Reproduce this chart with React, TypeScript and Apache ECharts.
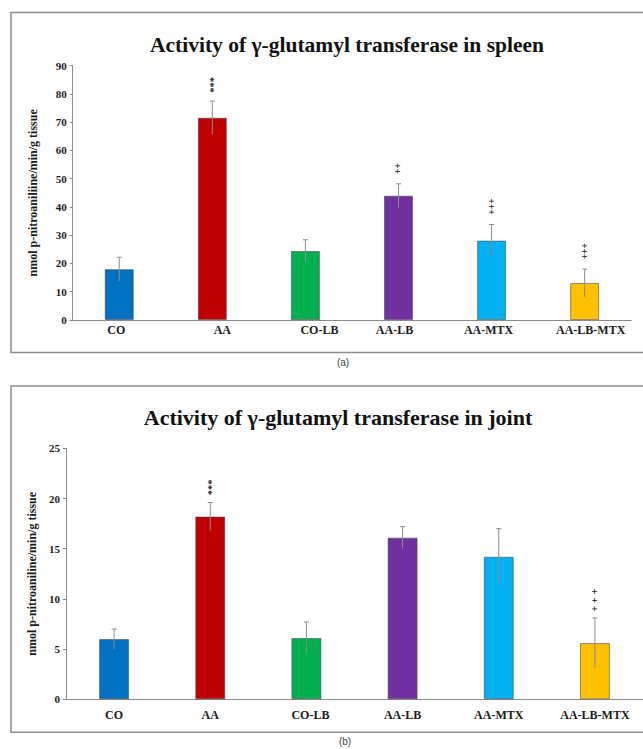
import React, { useEffect, useRef } from 'react';
import * as echarts from 'echarts';

// ---------- data ----------
const categories = ['CO', 'AA', 'CO-LB', 'AA-LB', 'AA-MTX', 'AA-LB-MTX'];

const spleenValues = [18.0, 71.6, 24.4, 44.0, 28.1, 13.1];
const spleenErrors = [4.2, 5.9, 4.0, 4.2, 5.7, 4.9];
const spleenMarks = ['', '***', '', '++', '+++', '+++'];
const spleenTicks = [0, 10, 20, 30, 40, 50, 60, 70, 80, 90];

const jointValues = [6.0, 18.2, 6.1, 16.1, 14.2, 5.6];
const jointErrors = [1.0, 1.4, 1.6, 1.1, 2.8, 2.5];
const jointMarks = ['', '***', '', '', '', '+++'];
const jointTicks = [0, 5, 10, 15, 20, 25];

const spleenTitle = 'Activity of γ-glutamyl transferase in spleen';
const jointTitle = 'Activity of γ-glutamyl transferase in joint';
const spleenYName = 'nmol p-nitroaniliine/min/g tissue';
const jointYName = 'nmol p-nitroaniline/min/g tissue';

// ---------- styles ----------
const barColors = ['#0070C0', '#C00000', '#00B050', '#7030A0', '#00B0F0', '#FFC000'];
const SERIF = '"Liberation Serif", "Times New Roman", serif';
const TXT = '#1a1a1a';
const AXIS = '#8a8a8a';
const spleenLabelShift = [-3, 10, 14, -4, -3, 6];
const jointLabelShift = [0, 0, 4, 0, 0, 0];

type MarkCfg = { size: number; adv: number; dx: number; gap: number; sep: string };
const spleenMarkStyle: Record<string, MarkCfg> = {
  '*': { size: 10.5, adv: 5.25, dx: 1.5, gap: 11, sep: '' },
  '+': { size: 9.5, adv: 5.4, dx: -0.5, gap: 12.5, sep: '' },
};
const jointMarkStyle: Record<string, MarkCfg> = {
  '*': { size: 10.5, adv: 5.25, dx: 1.5, gap: 10, sep: '' },
  '+': { size: 10.5, adv: 8.6, dx: -0.5, gap: 10.5, sep: ' ' },
};

function labelRich(shifts: number[]) {
  const rich: Record<string, any> = {};
  shifts.forEach((s, i) => {
    rich['s' + i] = {
      fontFamily: SERIF,
      fontWeight: 'bold',
      fontSize: 12,
      color: TXT,
      padding: s >= 0 ? [0, 0, 0, 2 * s] : [0, -2 * s, 0, 0],
    };
  });
  return rich;
}

function buildSeries(
  idx: number,
  values: number[],
  errors: number[],
  marks: string[],
  barWidth: number,
  markStyle: Record<string, MarkCfg>
) {
  return [
    {
      type: 'bar',
      xAxisIndex: idx,
      yAxisIndex: idx,
      barWidth,
      data: values.map((v, i) => ({
        value: v,
        itemStyle: { color: barColors[i], borderColor: 'rgba(70,70,70,0.55)', borderWidth: 1 },
      })),
      z: 2,
    },
    {
      type: 'custom',
      xAxisIndex: idx,
      yAxisIndex: idx,
      z: 3,
      itemStyle: { color: '#8c8c8c' },
      data: values.map((v, i) => [i, v, errors[i]]),
      renderItem: (params: any, api: any) => {
        const x = api.value(0);
        const v = api.value(1);
        const e = api.value(2);
        const hi = api.coord([x, v + e]);
        const lo = api.coord([x, v - e]);
        const st = { stroke: '#8c8c8c', lineWidth: 1, fill: 'none' };
        return {
          type: 'group',
          children: [
            { type: 'line', shape: { x1: hi[0], y1: hi[1], x2: lo[0], y2: lo[1] }, style: st },
            { type: 'line', shape: { x1: hi[0] - 2.5, y1: hi[1], x2: hi[0] + 2.5, y2: hi[1] }, style: st },
          ],
        };
      },
    },
    {
      type: 'custom',
      xAxisIndex: idx,
      yAxisIndex: idx,
      z: 4,
      itemStyle: { color: TXT },
      data: values.map((v, i) => [i, v + errors[i]]),
      renderItem: (params: any, api: any) => {
        const i = params.dataIndex;
        const chars = Array.from(marks[i] || '');
        if (!chars.length) return { type: 'group', children: [] };
        const top = api.coord([api.value(0), api.value(1)]);
        const ms = markStyle[chars[0]] || markStyle['*'];
        return {
          type: 'text',
          x: Math.round(top[0]) + ms.dx,
          y: top[1] - ms.gap + ms.adv / 2,
          rotation: Math.PI / 2,
          style: {
            text: chars.join(ms.sep),
            align: 'left',
            verticalAlign: 'middle',
            fontFamily: SERIF,
            fontWeight: 'bold',
            fontSize: ms.size,
            fill: TXT,
          },
        };
      },
    },
  ];
}

export default function App() {
  const ref = useRef<HTMLDivElement>(null);

  useEffect(() => {
    if (!ref.current) return;
    const chart = echarts.init(ref.current, undefined, { renderer: 'svg' });

    const yAxisCommon = (ticks: number[], name: string, nameGap: number, gridIndex: number) => ({
      type: 'value',
      gridIndex,
      min: ticks[0],
      max: ticks[ticks.length - 1],
      interval: ticks[1] - ticks[0],
      name,
      nameLocation: 'middle',
      nameGap,
      nameRotate: 90,
      nameTextStyle: { fontFamily: SERIF, fontWeight: 'bold', fontSize: 12, color: TXT },
      axisLine: { show: true, lineStyle: { color: AXIS, width: 1 } },
      axisTick: { show: true, length: 3, lineStyle: { color: AXIS } },
      splitLine: { show: false },
      axisLabel: { fontFamily: SERIF, fontWeight: 'bold', fontSize: 11, color: TXT, margin: 6 },
    });

    const xAxisCommon = (gridIndex: number, shifts: number[], margin: number) => ({
      type: 'category',
      gridIndex,
      data: categories,
      axisLine: { show: true, lineStyle: { color: AXIS, width: 1 } },
      axisTick: { show: false },
      axisLabel: {
        interval: 0,
        margin,
        formatter: (v: string, i: number) => `{s${i}|${v}}`,
        rich: labelRich(shifts),
      },
    });

    chart.setOption({
      animation: false,
      backgroundColor: '#ffffff',
      grid: [
        { left: 72.7, top: 65.7, width: 558.5, height: 254.3, containLabel: false },
        { left: 66, top: 448.3, width: 577, height: 251, containLabel: false },
      ],
      xAxis: [xAxisCommon(0, spleenLabelShift, 4), xAxisCommon(1, jointLabelShift, 10)],
      yAxis: [
        yAxisCommon(spleenTicks, spleenYName, 34, 0),
        yAxisCommon(jointTicks, jointYName, 26, 1),
      ],
      graphic: [
        {
          type: 'rect',
          shape: { x: 11, y: 12.5, width: 640, height: 340 },
          style: { fill: 'none', stroke: '#8c8c8c', lineWidth: 1.5 },
          silent: true,
        },
        {
          type: 'rect',
          shape: { x: 11, y: 386, width: 640, height: 346.3 },
          style: { fill: 'none', stroke: '#8c8c8c', lineWidth: 1.5 },
          silent: true,
        },
        {
          type: 'text',
          x: 347,
          y: 45,
          style: {
            text: spleenTitle,
            align: 'center',
            verticalAlign: 'middle',
            fontFamily: SERIF,
            fontWeight: 'bold',
            fontSize: 21.5,
            fill: '#111',
          },
        },
        {
          type: 'text',
          x: 338,
          y: 417,
          style: {
            text: jointTitle,
            align: 'center',
            verticalAlign: 'middle',
            fontFamily: SERIF,
            fontWeight: 'bold',
            fontSize: 22,
            fill: '#111',
          },
        },
        {
          type: 'text',
          x: 343,
          y: 362,
          style: {
            text: '(a)',
            align: 'center',
            verticalAlign: 'middle',
            fontFamily: '"Liberation Sans", Arial, sans-serif',
            fontSize: 10,
            fill: '#444',
          },
        },
        {
          type: 'text',
          x: 345,
          y: 741,
          style: {
            text: '(b)',
            align: 'center',
            verticalAlign: 'middle',
            fontFamily: '"Liberation Sans", Arial, sans-serif',
            fontSize: 10,
            fill: '#444',
          },
        },
      ],
      series: [
        ...buildSeries(0, spleenValues, spleenErrors, spleenMarks, 29, spleenMarkStyle),
        ...buildSeries(1, jointValues, jointErrors, jointMarks, 30, jointMarkStyle),
      ],
    });

    return () => chart.dispose();
  }, []);

  return (
    <div
      ref={ref}
      style={{ position: 'fixed', left: 0, top: 0, width: 643, height: 749, background: '#fff' }}
    />
  );
}
